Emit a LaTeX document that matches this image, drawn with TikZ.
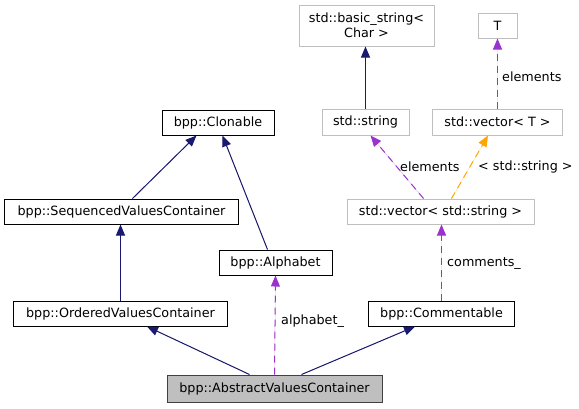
\documentclass[tikz,border=0pt]{standalone}
\usepackage{fontspec}
\setmainfont{DejaVu Sans}
\usetikzlibrary{arrows.meta,positioning}
\definecolor{edgeblue}{HTML}{191970}
\definecolor{edgepurple}{HTML}{9A32CD}
\definecolor{edgeorange}{HTML}{FFA500}
\definecolor{boxgray}{HTML}{BFBFBF}
\definecolor{boxdark}{HTML}{404040}

\begin{document}
\begin{tikzpicture}[x=1bp, y=-1bp, font=\fontsize{12.8}{15.5}\selectfont,
    cls/.style={draw=black, fill=white, line width=1bp, minimum height=25bp, inner sep=0pt},
    ext/.style={cls, draw=boxgray},
    inh/.style={draw=edgeblue, fill=edgeblue, line width=1bp, -{Triangle[length=11bp,width=9bp]}},
    member/.style={draw=edgepurple, fill=edgepurple, line width=1bp, dash pattern=on 7bp off 5bp, -{Triangle[length=11bp,width=9bp]}},
    tpl/.style={member, draw=edgeorange, fill=edgeorange},
    lbl/.style={inner sep=0pt, anchor=west}]
    \useasboundingbox (0,0) rectangle (579,408);
    \begin{scope}
        \node(abstract) at (274.5,388.5) [cls, fill=boxgray, draw=boxdark, minimum width=215bp, minimum height=27bp]{bpp::AbstractValuesContainer};
        \node(ordered) at (120.5,313.5) [cls, minimum width=214bp]{bpp::OrderedValuesContainer};
        \node(commentable) at (441.5,313.5) [cls, minimum width=146bp]{bpp::Commentable};
        \node(alphabet) at (275.5,262.5) [cls, minimum width=113bp]{bpp::Alphabet};
        \node(sequenced) at (121.5,211.5) [cls, minimum width=233bp]{bpp::SequencedValuesContainer};
        \node(clonable) at (218,122.5) [cls, minimum width=112bp]{bpp::Clonable};
        %%%
        \node(basicstring) at (366.5,25.5) [ext, minimum width=135bp, minimum height=41bp, align=center]{std::basic\_string<\\Char >};
        \node(string) at (365.5,122) [ext, minimum width=87bp, minimum height=26bp]{std::string};
        \node(T) at (497.5,25.5) [ext, minimum width=39bp]{T};
        \node(vectorT) at (497.5,122) [ext, minimum width=130bp, minimum height=26bp]{std::vector< T >};
        \node(vecstring) at (440.5,211.5) [ext, minimum width=187bp]{std::vector< std::string >};
        %%%
        \node(alphabetlbl) at (281,321) [lbl]{alphabet\_};
        \node(commentslbl) at (447,264) [lbl]{comments\_};
        \node(elemTlbl) at (502,77) [lbl]{elements};
        \node(elemstrlbl) at (400,167) [lbl]{elements};
        \node(tpllbl) at (478,167) [lbl]{< std::string >};
    \end{scope}
    \draw[inh] ([xshift=83bp]abstract.north west) -- ([xshift=134bp]ordered.south west);
    \draw[inh] ([xshift=135bp]abstract.north west) -- ([xshift=47bp]commentable.south west);
    \draw[member] (abstract.north) -- (alphabet.south);
    \draw[inh] (ordered.north) -- (ordered.north |- sequenced.south);
    \draw[inh] ([xshift=128bp]sequenced.north west) -- ([xshift=35bp]clonable.south west);
    \draw[inh] ([xshift=49bp]alphabet.north west) -- ([xshift=61bp]clonable.south west);
    %
    \draw[member] (commentable.north) -- (commentable.north |- vecstring.south);
    \draw[member] ([xshift=77bp]vecstring.north west) -- ([xshift=49bp]string.south west);
    \draw[tpl] ([xshift=105bp]vecstring.north west) -- ([xshift=56bp]vectorT.south west);
    \draw[member] (vectorT.north) -- (vectorT.north |- T.south);
    \draw[inh] (string.north) -- (string.north |- basicstring.south);
\end{tikzpicture}
\end{document}
